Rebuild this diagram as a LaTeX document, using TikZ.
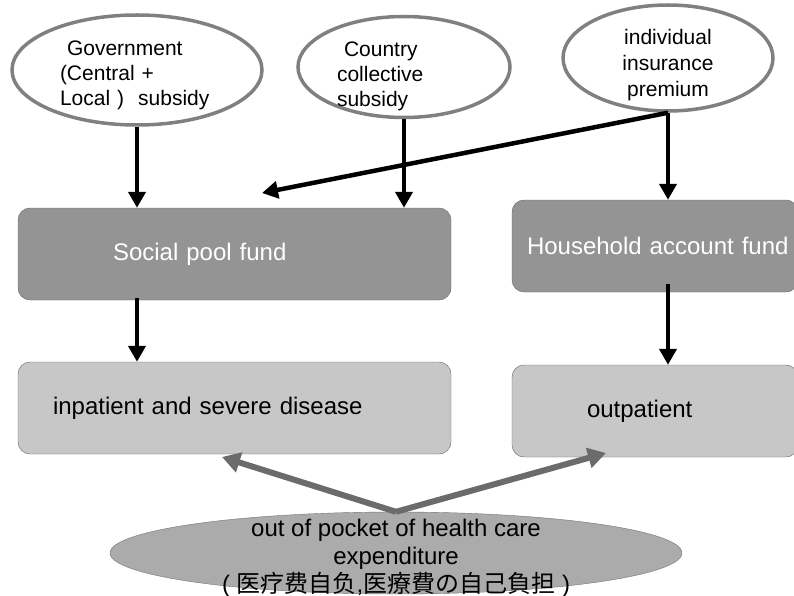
\documentclass[tikz,border=0pt]{standalone}
\usepackage{fontspec}
\setmainfont{Liberation Sans}
\newfontfamily\cjk{Noto Sans CJK JP}
\usetikzlibrary{shapes.geometric,arrows.meta}

\begin{document}
\begin{tikzpicture}[x=1pt,y=-1pt]
  % Colors
  \colorlet{rimcolor}{black!50}
  \colorlet{fundcolor}{black!42}
  \colorlet{carecolor}{black!22}
  \colorlet{pocketcolor}{black!33}
  \colorlet{linkcolor}{black!58}

  % Styles
  \tikzstyle{source}=[ellipse,draw=rimcolor,line width=3.5pt,fill=white,inner sep=-10pt,
    align=left,font=\fontsize{21}{25}\selectfont]
  \tikzstyle{fund}=[rectangle,rounded corners=12pt,draw=black!60,fill=fundcolor,text=white,
    inner xsep=10pt,minimum height=92pt,align=left,font=\fontsize{24}{29}\selectfont]
  \tikzstyle{care}=[fund,fill=carecolor,text=black]
  \tikzstyle{flow}=[line width=4.5pt,-{Triangle[length=16pt,width=17pt]}]
  \tikzstyle{payment}=[line width=6pt,linkcolor,-{Triangle[length=18pt,width=20pt]}]

  \useasboundingbox (0,0) rectangle (794,596);

  % The graphic
  \node[source,minimum width=250pt,minimum height=110pt,text width=154pt] (gov) at (137,70)
    {\rule{0pt}{25pt}\ Government\\(Central +\\Local\ )\ \ subsidy};
  \node[source,minimum width=212pt,minimum height=101pt,text width=134pt] (country) at (404,67)
    {\rule{0pt}{33pt}\ Country\\collective\\subsidy};
  \node[source,minimum width=210pt,minimum height=106pt,align=center,
    font=\fontsize{21}{26}\selectfont] (indiv) at (668,58)
    {\rule{0pt}{30pt}individual\\insurance\\premium};

  \node[fund,text width=413pt] (pool) at (234.5,254) {\hspace*{85pt}Social pool fund};
  \node[fund,text width=266pt] (house) at (655,246) {\hspace*{5pt}\mbox{Household account fund}};
  \node[care,text width=413pt] (inpat) at (234.5,408) {\hspace*{25pt}inpatient and severe disease};
  \node[care,text width=266pt] (outpat) at (655,411) {\hspace*{65pt}outpatient};

  \node[ellipse,draw=black!55,fill=pocketcolor,inner sep=-25pt,minimum width=572pt,
    minimum height=82pt,align=center,font=\fontsize{24}{28}\selectfont] (pocket) at (396,553)
    {\rule{0pt}{27pt}out of pocket of health care\\expenditure\\
     ( {\cjk 医疗费自负},{\cjk 医療費の自己負担} )};

  \coordinate (poolin) at (262,193);
  \coordinate (intip) at (222,457);
  \coordinate (outtip) at (606,453);

  \draw[flow] (gov.south) -- (gov.south |- pool.north);
  \draw[flow] (country.south) -- (country.south |- pool.north);
  \draw[flow] (indiv.south) -- (indiv.south |- house.north);
  \draw[flow] (indiv.south) -- (poolin);
  \draw[flow] ([yshift=2pt]gov.south |- pool.south) -- (gov.south |- inpat.north);
  \draw[flow] ([yshift=8pt]indiv.south |- house.south) -- (indiv.south |- outpat.north);

  \draw[payment] (pocket.north) -- (intip);
  \draw[payment] (pocket.north) -- (outtip);
\end{tikzpicture}
\end{document}
